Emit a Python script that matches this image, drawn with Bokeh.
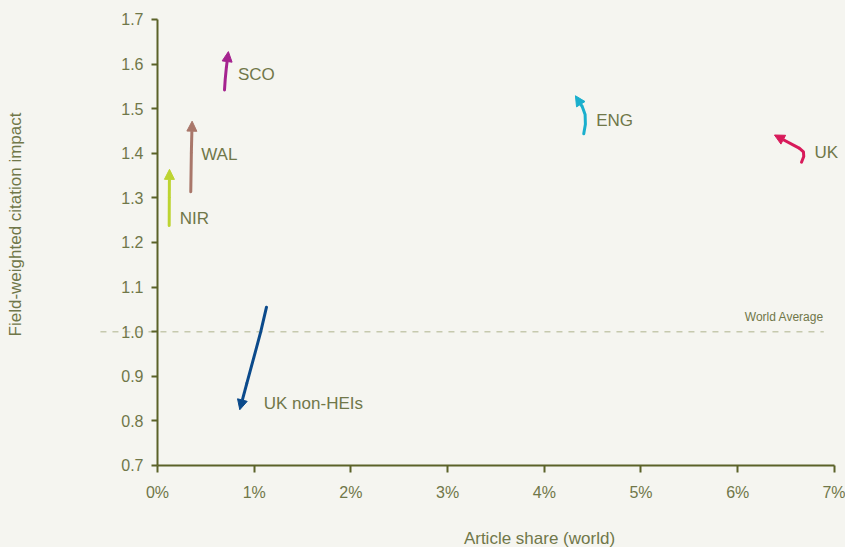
from bokeh.plotting import figure
from bokeh.models import Range1d, FixedTicker, Arrow, NormalHead, Label
from bokeh.embed import file_html
from bokeh.resources import INLINE

# ---- data (article share in %, field-weighted citation impact) ----
series_names = ["SCO", "WAL", "NIR", "ENG", "UK", "UK non-HEIs"]
sco_x = [0.693, 0.700, 0.712, 0.733]
sco_y = [1.542, 1.565, 1.592, 1.628]
wal_x = [0.344, 0.350, 0.358]
wal_y = [1.314, 1.400, 1.472]
nir_x = [0.121, 0.122, 0.124]
nir_y = [1.238, 1.300, 1.364]
eng_x = [4.408, 4.425, 4.422, 4.392, 4.322]
eng_y = [1.444, 1.465, 1.487, 1.505, 1.529]
uk_x = [6.660, 6.683, 6.680, 6.640, 6.380]
uk_y = [1.380, 1.393, 1.403, 1.411, 1.441]
nonhei_x = [1.127, 1.068, 1.000, 0.925, 0.851]
nonhei_y = [1.055, 1.000, 0.945, 0.885, 0.825]
series_colors = ["#a5238f", "#a9776a", "#bdd431", "#1aafcd", "#d81a5a", "#0b4a8b"]

label_x = [0.832, 0.452, 0.231, 4.537, 6.795, 1.099]
label_y = [1.576, 1.398, 1.254, 1.474, 1.401, 0.840]

x_ticks = [0, 1, 2, 3, 4, 5, 6, 7]
x_tick_labels = ["0%", "1%", "2%", "3%", "4%", "5%", "6%", "7%"]
y_ticks = [0.7, 0.8, 0.9, 1.0, 1.1, 1.2, 1.3, 1.4, 1.5, 1.6, 1.7]
y_tick_labels = ["0.7", "0.8", "0.9", "1.0", "1.1", "1.2", "1.3", "1.4", "1.5", "1.6", "1.7"]

world_average = 1.0
world_line_x = [-0.59, 6.89]

x_title = "Article share (world)"
y_title = "Field-weighted citation impact"

# ---- styling ----
BG = "#f5f5f0"
AXIS = "#5b6228"
TEXT = "#707749"
FONT = "Liberation Sans"

# the frame covers the whole canvas; axes sit inside it at fixed locations
p = figure(width=845, height=547, x_range=Range1d(-1.6236, 7.1148), y_range=Range1d(0.5161, 1.7426),
           output_backend="svg", toolbar_location=None,
           min_border_left=0, min_border_right=0, min_border_top=0, min_border_bottom=0,
           background_fill_color=BG, border_fill_color=BG, outline_line_color=None)
p.xgrid.visible = False
p.ygrid.visible = False

xa = p.xaxis[0]
xa.fixed_location = y_ticks[0]
xa.bounds = (x_ticks[0], x_ticks[-1])
xa.ticker = FixedTicker(ticks=x_ticks)
xa.major_label_overrides = dict(zip(x_ticks, x_tick_labels))
ya = p.yaxis[0]
ya.fixed_location = x_ticks[0]
ya.bounds = (y_ticks[0], y_ticks[-1])
ya.ticker = FixedTicker(ticks=y_ticks)
ya.major_label_overrides = dict(zip(y_ticks, y_tick_labels))
for ax in (xa, ya):
    ax.axis_line_color = AXIS
    ax.axis_line_width = 2
    ax.major_tick_line_color = AXIS
    ax.major_tick_line_width = 2
    ax.major_tick_in = 0
    ax.major_tick_out = 6
    ax.minor_tick_line_color = None
    ax.major_label_text_color = TEXT
    ax.major_label_text_font = FONT
    ax.major_label_text_font_size = "16px"
ya.major_label_standoff = 8
xa.major_tick_out = 7
xa.major_label_standoff = 12

# world average line
p.line(world_line_x, [world_average, world_average], line_color="#c6c9ae", line_width=1.5,
       line_dash="6 6")
p.add_layout(Label(x=world_line_x[1], y=world_average + 0.034, text="World Average",
                   text_align="right", text_baseline="middle", text_color=TEXT,
                   text_font=FONT, text_font_size="12px"))

all_x = [sco_x, wal_x, nir_x, eng_x, uk_x, nonhei_x]
all_y = [sco_y, wal_y, nir_y, eng_y, uk_y, nonhei_y]
for name, xs, ys, c, lx, ly in zip(series_names, all_x, all_y, series_colors, label_x, label_y):
    p.line(xs[:-1], ys[:-1], line_color=c, line_width=3, line_cap="round", line_join="round")
    p.add_layout(Arrow(end=NormalHead(size=10, fill_color=c, line_color=c, line_width=1),
                       x_start=xs[-2], y_start=ys[-2], x_end=xs[-1], y_end=ys[-1],
                       line_color=c, line_width=3))
    p.add_layout(Label(x=lx, y=ly, text=name, text_align="left", text_baseline="middle",
                       text_color=TEXT, text_font=FONT, text_font_size="17px"))

# axis titles
p.add_layout(Label(x=3.95, y=0.5363, text=x_title, text_align="center", text_baseline="middle",
                   text_color=TEXT, text_font=FONT, text_font_size="17px"))
p.add_layout(Label(x=-1.468, y=1.2404, text=y_title, angle=1.5707963, text_align="center",
                   text_baseline="middle", text_color=TEXT, text_font=FONT,
                   text_font_size="17px"))

template = """
{% block postamble %}
<style>html, body { background: #f5f5f0; }</style>
{% endblock %}
"""
open("out.html", "w").write(file_html(p, INLINE, template=template))
